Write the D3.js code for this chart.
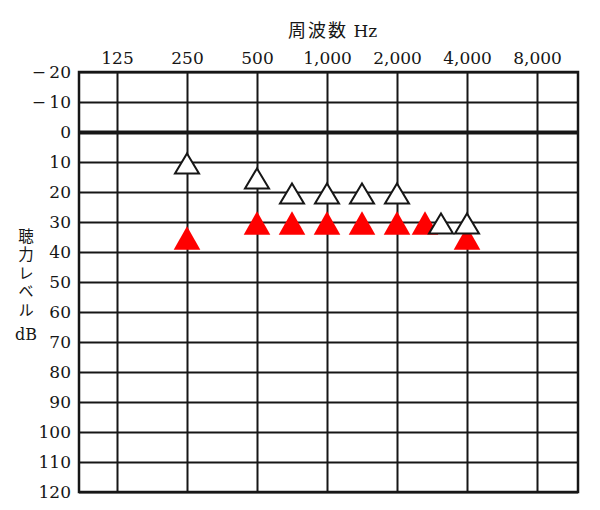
<!DOCTYPE html>
<html>
<head>
<meta charset="utf-8">
<script src="https://cdn.jsdelivr.net/npm/d3@7"></script>
<style>
  body { margin: 0; background: #fff; }
  svg { display: block; }
</style>
</head>
<body>
<script>
// audiogram data
const freqLabels = ["125", "250", "500", "1,000", "2,000", "4,000", "8,000"];
const dbTicks = [-20, -10, 0, 10, 20, 30, 40, 50, 60, 70, 80, 90, 100, 110, 120];
const testFreqs = [250, 500, 750, 1000, 1500, 2000, 3000, 4000];
const openValues = [10, 15, 20, 20, 20, 20, 30, 30];   // white triangles
const redValues = [35, 30, 30, 30, 30, 30, 30, 35];    // red triangles
const yTitle = "聴力レベル";
const yUnit = "dB";

const WIDTH = 600, HEIGHT = 510;
const LEFT = 79, TOP = 72, RIGHT = 578, BOTTOM = 492;
const W = RIGHT - LEFT, H = BOTTOM - TOP;
const SERIF = "'DejaVu Serif', 'Liberation Serif', serif";
const CJK = "'Noto Sans CJK JP', sans-serif";
const INK = "#161616";

const svg = d3.select("body").append("svg")
  .attr("width", WIDTH).attr("height", HEIGHT);

// x: octave index (0 = 125 Hz), test freqs snap to half-octave slots
const x = d3.scaleLinear().domain([0, 6]).range([38, W - 41]);
const slot = f => Math.round(2 * Math.log2(f / 125)) / 2;
const y = d3.scaleLinear().domain([-20, 120]).range([0, H]);

const g = svg.append("g").attr("transform", `translate(${LEFT},${TOP})`);

// grid + labels through axes
const yAxis = d3.axisLeft(y)
  .tickValues(dbTicks)
  .tickSize(-W)
  .tickPadding(8)
  .tickFormat(d => d < 0 ? "\u2212\u2009" + (-d) : d);

const xAxis = d3.axisTop(x)
  .tickValues(d3.range(freqLabels.length))
  .tickSize(-H)
  .tickPadding(8)
  .tickFormat(i => freqLabels[i]);

const gy = g.append("g").call(yAxis);
const gx = g.append("g").call(xAxis);

[gx, gy].forEach(a => {
  a.select(".domain").remove();
  a.selectAll("line").attr("stroke", INK).attr("stroke-width", 2);
  a.selectAll("text")
    .attr("fill", INK)
    .style("font-family", SERIF)
    .style("font-size", "17px");
});
gy.selectAll(".tick").filter(d => d === 0).select("line").attr("stroke-width", 4);

g.append("rect")
  .attr("width", W).attr("height", H)
  .attr("fill", "none").attr("stroke", INK).attr("stroke-width", 2.5);

// markers
const redPts = testFreqs.map((f, i) => ({ f, v: redValues[i] }));
const openPts = testFreqs.map((f, i) => ({ f, v: openValues[i] }));
const clash = (p, others) => others.some(o => o.f === p.f && o.v === p.v);

const redTri = "M0,-11.7L13.3,11.7L-13.3,11.7Z";
const openTri = "M0,-9.6L12,10.4L-12,10.4Z";

g.append("g").selectAll("path")
  .data(redPts)
  .enter()
  .append("path")
  .attr("d", redTri)
  .attr("transform", d => `translate(${x(slot(d.f)) + (clash(d, openPts) ? -7 : 0)},${y(d.v) + 1})`)
  .attr("fill", "#ff0000");

g.append("g").selectAll("path")
  .data(openPts)
  .enter()
  .append("path")
  .attr("d", openTri)
  .attr("transform", d => `translate(${x(slot(d.f)) + (clash(d, redPts) ? 9 : 0)},${y(d.v) + 1})`)
  .attr("fill", "#fff")
  .attr("stroke", INK)
  .attr("stroke-width", 2);

// titles
const xt = svg.append("text")
  .attr("x", 288).attr("y", 37)
  .attr("fill", INK);
xt.append("tspan").text("周波数")
  .style("font-family", CJK).style("font-size", "18px").style("letter-spacing", "2px");
xt.append("tspan").text(" Hz")
  .style("font-family", SERIF).style("font-size", "17px");

svg.append("text")
  .attr("x", 26).attr("y", 228)
  .style("writing-mode", "vertical-rl")
  .style("font-family", CJK)
  .style("font-size", "15.5px")
  .style("letter-spacing", "3px")
  .attr("fill", INK)
  .text(yTitle);

svg.append("text")
  .attr("x", 26).attr("y", 334)
  .attr("text-anchor", "middle")
  .attr("dominant-baseline", "central")
  .attr("fill", INK)
  .style("font-family", SERIF)
  .style("font-size", "16px")
  .text(yUnit);
</script>
</body>
</html>
